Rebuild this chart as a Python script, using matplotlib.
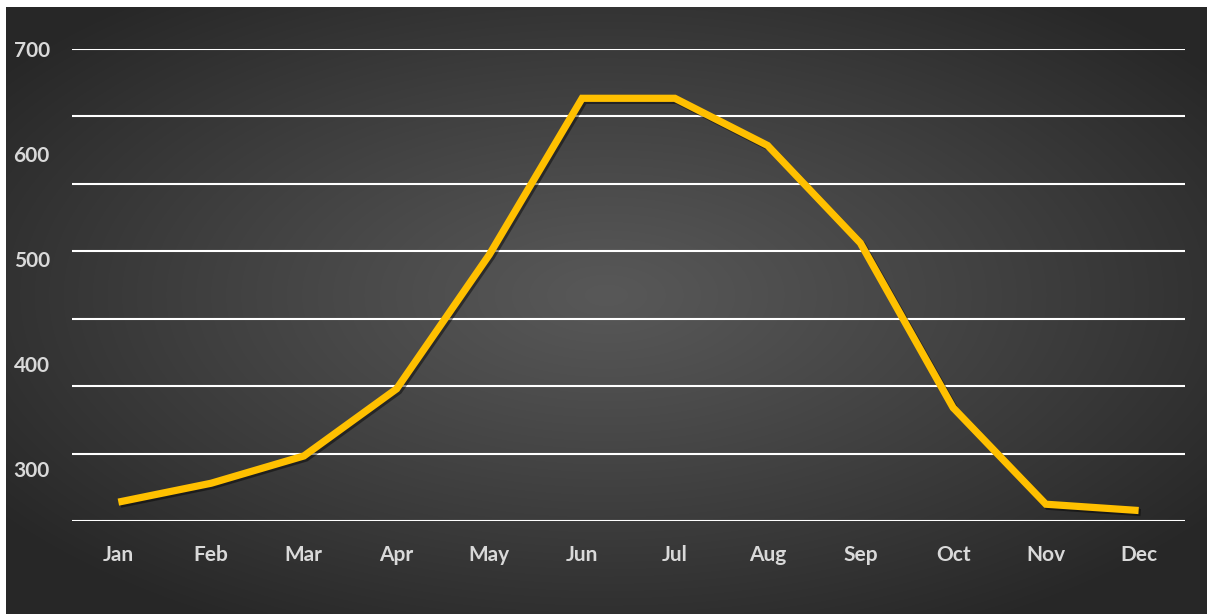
import numpy as np
import matplotlib.pyplot as plt
import matplotlib.patheffects as pe

months = ["Jan", "Feb", "Mar", "Apr", "May", "Jun", "Jul", "Aug", "Sep", "Oct", "Nov", "Dec"]
values = [268, 286, 312, 376, 504, 653, 653, 608, 515, 358, 266, 260]
yTicks = [300, 400, 500, 600, 700]
yMin, yMax = 250, 700
gridCount = 7

plt.rcParams['font.family'] = ['Lato', 'DejaVu Sans']

fig = plt.figure(figsize=(12.07, 6.14), dpi=100)
fig.patch.set_facecolor("white")

# radial gradient background (white strip top and left like the reference)
bg = fig.add_axes([6 / 1207, 0, 1 - 6 / 1207, 1 - 7 / 614])
gx, gy = np.meshgrid(np.linspace(-1, 1, 600), np.linspace(-1, 1, 300))
r = np.sqrt(gx ** 2 + (gy + 0.05) ** 2)
shade = 0.345 - 0.19 * np.clip(r / 1.25, 0, 1) ** 1.1
img = np.dstack([shade, shade, shade])
bg.imshow(img, aspect="auto", extent=[0, 1, 0, 1], interpolation="bilinear")
bg.set_axis_off()

ax = fig.add_axes([72 / 1207, 93 / 614, (1185 - 72) / 1207, (521 - 49) / 614])
ax.patch.set_alpha(0)

for k in range(gridCount + 1):
    ax.axhline(yMin + k * (yMax - yMin) / gridCount, color="white", lw=1.5, zorder=1)

x = np.arange(len(months))
ax.plot(x, values, color="#FFC000", lw=5.2, solid_joinstyle="miter", solid_capstyle="butt", zorder=3,
        path_effects=[pe.SimpleLineShadow(offset=(1.5, -1.5), alpha=0.45), pe.Normal()])

ax.set_xlim(-0.5, len(months) - 0.5)
ax.set_ylim(yMin, yMax)
ax.set_xticks(x)
ax.set_xticklabels(months)
ax.set_yticks(yTicks)
ax.tick_params(axis="both", length=0, labelsize=15, labelcolor="#d9d9d9")
ax.tick_params(axis="y", pad=16)
ax.tick_params(axis="x", pad=17)
for lab in ax.get_xticklabels() + ax.get_yticklabels():
    lab.set_fontweight("bold")
for s in ax.spines.values():
    s.set_visible(False)

fig.savefig("out.png", dpi=100)
